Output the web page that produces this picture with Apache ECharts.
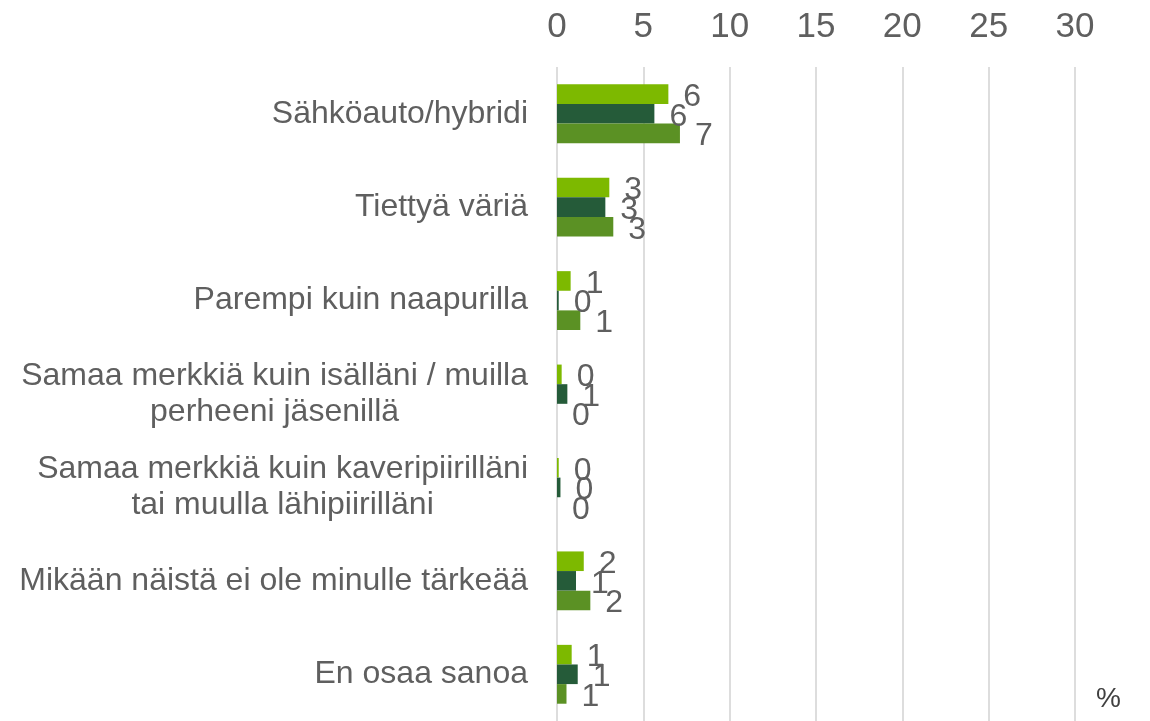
<!DOCTYPE html>
<html>
<head>
<meta charset="utf-8">
<script src="https://cdn.jsdelivr.net/npm/echarts@6/dist/echarts.min.js"></script>
<style>
html,body{margin:0;padding:0;background:#fff;}
#chart{width:1150px;height:721px;}
</style>
</head>
<body>
<div id="chart"></div>
<script>
const categories = [
  'Sähköauto/hybridi',
  'Tiettyä väriä',
  'Parempi kuin naapurilla',
  'Samaa merkkiä kuin isälläni / muilla\nperheeni jäsenillä',
  'Samaa merkkiä kuin kaveripiirilläni\ntai muulla lähipiirilläni',
  'Mikään näistä ei ole minulle tärkeää',
  'En osaa sanoa'
];
const seriesA = [6.45, 3.03, 0.79, 0.27, 0.1, 1.55, 0.85];
const seriesB = [5.64, 2.8, 0.1, 0.6, 0.2, 1.1, 1.2];
const seriesC = [7.12, 3.26, 1.35, 0, 0, 1.93, 0.55];
const xTicks = [0, 5, 10, 15, 20, 25, 30];

const colors = ['#7DB900', '#255B39', '#5B9124'];
const labelColor = '#5F5F5F';
const font = 'Liberation Sans, Arial, sans-serif';

function mkSeries(name, data, color) {
  return {
    name: name,
    type: 'bar',
    data: data,
    barGap: '0%',
    barCategoryGap: '37%',
    itemStyle: { color: color },
    label: {
      show: true,
      position: 'right',
      distance: 15,
      offset: [0, 3],
      color: labelColor,
      fontFamily: font,
      fontSize: 32,
      formatter: p => String(Math.round(p.value))
    }
  };
}

const chart = echarts.init(document.getElementById('chart'));
chart.setOption({
  animation: false,
  grid: { left: 557, right: 75, top: 67, bottom: 0, containLabel: false },
  xAxis: {
    type: 'value',
    position: 'top',
    min: xTicks[0],
    max: xTicks[xTicks.length - 1],
    interval: 5,
    axisLine: { show: false },
    axisTick: { show: false },
    axisLabel: { color: labelColor, fontFamily: font, fontSize: 35, margin: 22 },
    splitLine: { show: true, lineStyle: { color: '#DDDDDD', width: 2 } }
  },
  yAxis: {
    type: 'category',
    data: categories,
    inverse: true,
    axisLine: { show: false },
    axisTick: { show: false },
    axisLabel: {
      margin: 29,
      align: 'right',
      formatter: v => v.split('\n').map(l => '{c|' + l + '}').join('\n'),
      rich: {
        c: { color: labelColor, fontFamily: font, fontSize: 32, lineHeight: 36, align: 'center' }
      }
    }
  },
  series: [
    mkSeries('A', seriesA, colors[0]),
    mkSeries('B', seriesB, colors[1]),
    mkSeries('C', seriesC, colors[2])
  ],
  graphic: [{
    type: 'text',
    left: 1096,
    top: 685,
    style: { text: '%', fontFamily: font, fontSize: 28, fill: '#404040' }
  }]
});
</script>
</body>
</html>
